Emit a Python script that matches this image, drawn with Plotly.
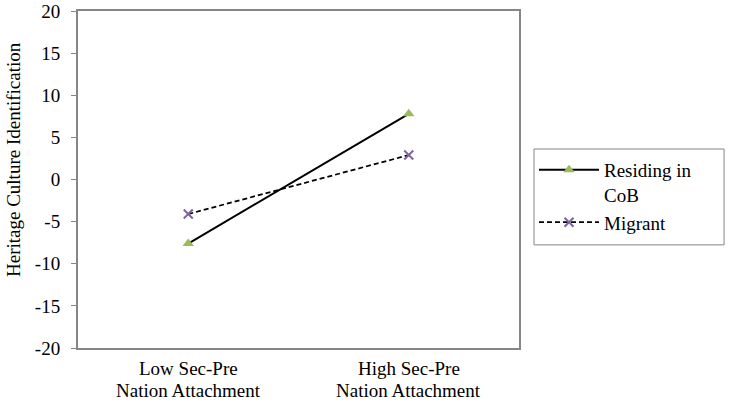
import plotly.graph_objects as go

categories = ["Low Sec-Pre Nation Attachment", "High Sec-Pre Nation Attachment"]
category_lines = [["Low Sec-Pre", "Nation Attachment"], ["High Sec-Pre", "Nation Attachment"]]
residing = [-7.6, 7.8]
migrant = [-4.1, 2.9]
y_ticks = [-20, -15, -10, -5, 0, 5, 10, 15, 20]
y_ticktext = ["-20", "-15", "-10", "-5", "0", "5", "10", "15", "20"]

font = "Liberation Serif, Times New Roman, serif"
axis_grey = "#868686"

fig = go.Figure()
fig.add_trace(go.Scatter(
    x=categories, y=residing, name="Residing in<br>CoB", mode="lines+markers",
    line=dict(color="black", width=2),
    marker=dict(symbol="triangle-up", size=10, color="#9BBB59"),
))
fig.add_trace(go.Scatter(
    x=categories, y=migrant, name="Migrant", mode="lines+markers",
    line=dict(color="black", width=1.75, dash="5px,3px"),
    marker=dict(symbol="x-thin", size=9, color="#8064A2", line=dict(color="#8064A2", width=2)),
))

# y-axis title
fig.add_annotation(
    text="Heritage Culture Identification", textangle=-90,
    xref="paper", yref="paper", x=-0.145, y=0.558,
    xanchor="center", yanchor="middle", showarrow=False,
    font=dict(size=19),
)

# category labels (two lines each)
for cat, lines in zip(categories, category_lines):
    for i, line in enumerate(lines):
        fig.add_annotation(
            text=line, xref="x", yref="paper", x=cat, y=0,
            xanchor="center", yanchor="middle", yshift=-20 - 22 * i,
            showarrow=False, font=dict(size=19),
        )

# legend frame
fig.add_shape(
    type="rect", xref="paper", yref="paper",
    x0=1.034, x1=1.465, y0=0.306, y1=0.5905,
    line=dict(color=axis_grey, width=1), fillcolor="rgba(0,0,0,0)",
)

fig.update_layout(
    width=729, height=404,
    margin=dict(l=78, r=210, t=11, b=56),
    paper_bgcolor="white", plot_bgcolor="white",
    font=dict(family=font, size=19, color="black"),
    xaxis=dict(
        type="category", range=[-0.5, 1.5], showgrid=False, zeroline=False,
        showline=True, linecolor=axis_grey, linewidth=2, mirror=True,
        ticks="", showticklabels=False, automargin=False,
    ),
    yaxis=dict(
        range=[-20, 20], tickvals=y_ticks, ticktext=y_ticktext,
        showgrid=False, zeroline=False,
        showline=True, linecolor=axis_grey, linewidth=2, mirror=True,
        ticks="outside", ticklen=5, tickcolor=axis_grey, tickwidth=1,
        ticklabelstandoff=7,
        tickfont=dict(size=19), automargin=False,
    ),
    legend=dict(
        x=1.034, y=0.5846, xanchor="left", yanchor="top",
        borderwidth=0, font=dict(size=19), bgcolor="rgba(0,0,0,0)",
        tracegroupgap=0, itemwidth=60, valign="top",
    ),
    showlegend=True,
)

fig.write_html("out.html", config={"displayModeBar": False},
               post_script="document.body.style.margin='0';")
